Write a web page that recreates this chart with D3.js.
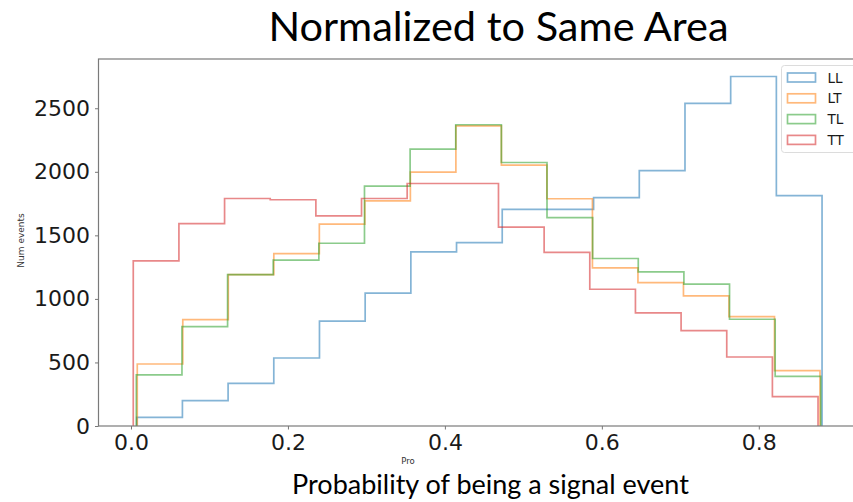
<!DOCTYPE html>
<html>
<head>
<meta charset="utf-8">
<script src="https://cdn.jsdelivr.net/npm/d3@7"></script>
<style>
  html, body { margin: 0; padding: 0; background: #fff; overflow: hidden; }
  svg { display: block; }
</style>
</head>
<body>
<script>
const width = 853;
const height = 502;

// histogram counts, 15 bins each
const seriesNames = ["LL", "LT", "TL", "TT"];
const llCounts = [68, 199, 336, 535, 825, 1045, 1370, 1443, 1705, 1705, 1797, 2010, 2538, 2750, 1813];
const ltCounts = [488, 837, 1191, 1357, 1588, 1772, 1998, 2362, 2053, 1788, 1244, 1128, 1024, 861, 436];
const tlCounts = [402, 782, 1191, 1305, 1438, 1887, 2178, 2370, 2073, 1640, 1318, 1213, 1116, 840, 390];
const ttCounts = [1299, 1593, 1790, 1780, 1654, 1790, 1908, 1908, 1564, 1366, 1076, 890, 751, 543, 231];
// each series was binned over its own min..max
const llRange = [0.0073, 0.8806];
const ltRange = [0.008, 0.878];
const tlRange = [0.0068, 0.879];
const ttRange = [0.0029, 0.8755];
const xTicks = [0, 0.2, 0.4, 0.6, 0.8];
const yTicks = [0, 500, 1000, 1500, 2000, 2500];

const colors = ["#1f77b4", "#ff7f0e", "#2ca02c", "#d62728"];
const series = [
  { name: seriesNames[0], counts: llCounts, range: llRange },
  { name: seriesNames[1], counts: ltCounts, range: ltRange },
  { name: seriesNames[2], counts: tlCounts, range: tlRange },
  { name: seriesNames[3], counts: ttCounts, range: ttRange },
];

const plot = { left: 98.5, right: 856.5, top: 59, bottom: 426 };

const xScale = d3
  .scaleLinear()
  .domain([-0.0414, 0.9245])
  .range([plot.left, plot.right]);

const yScale = d3
  .scaleLinear()
  .domain([0, 2887.5])
  .range([plot.bottom, plot.top]);

const svg = d3
  .select("body")
  .append("svg")
  .attr("width", width)
  .attr("height", height);

// step outlines
const line = d3
  .line()
  .x((d) => xScale(d[0]))
  .y((d) => yScale(d[1]));

const stepPoints = (s) => {
  const n = s.counts.length;
  const [lo, hi] = s.range;
  const edges = d3.range(n + 1).map((i) => lo + (i * (hi - lo)) / n);
  const pts = [[edges[0], 0]];
  s.counts.forEach((v, i) => {
    pts.push([edges[i], v]);
    pts.push([edges[i + 1], v]);
  });
  pts.push([edges[n], 0]);
  return pts;
};

svg
  .append("g")
  .selectAll("path")
  .data(series)
  .enter()
  .append("path")
  .attr("d", (d) => line(stepPoints(d)))
  .attr("fill", "none")
  .attr("stroke", (d, i) => colors[i])
  .attr("stroke-opacity", 0.55)
  .attr("stroke-width", 1.7);

// axes
const xAxis = svg
  .append("g")
  .attr("transform", `translate(0, ${plot.bottom})`)
  .call(
    d3.axisBottom(xScale).tickValues(xTicks).tickFormat(d3.format(".1f")).tickSize(3.5).tickPadding(5)
  );

const yAxis = svg
  .append("g")
  .attr("transform", `translate(${plot.left}, 0)`)
  .call(
    d3.axisLeft(yScale).tickValues(yTicks).tickFormat(d3.format("d")).tickSize(3.5).tickPadding(5)
  );

[xAxis, yAxis].forEach((g) => {
  g.select(".domain").remove();
  g.selectAll(".tick line").attr("stroke", "#777").attr("stroke-width", 1);
  g.selectAll(".tick text")
    .style("font-family", "DejaVu Sans")
    .style("font-size", "22px")
    .attr("fill", "#1a1a1a");
});

// frame
svg
  .append("rect")
  .attr("x", plot.left)
  .attr("y", plot.top)
  .attr("width", plot.right - plot.left)
  .attr("height", plot.bottom - plot.top)
  .attr("fill", "none")
  .attr("stroke", "#7a7a7a")
  .attr("stroke-width", 1.2);

// legend
const legend = svg.append("g").attr("transform", "translate(781.5, 65.5)");

legend
  .append("rect")
  .attr("width", 80)
  .attr("height", 87)
  .attr("rx", 3)
  .attr("fill", "#fff")
  .attr("fill-opacity", 0.8)
  .attr("stroke", "#dcdcdc")
  .attr("stroke-width", 1);

const items = legend
  .selectAll("g.item")
  .data(series)
  .enter()
  .append("g")
  .attr("class", "item")
  .attr("transform", (d, i) => `translate(6, ${12 + i * 20.8})`);

items
  .append("rect")
  .attr("y", -4.5)
  .attr("width", 28)
  .attr("height", 9)
  .attr("fill", "none")
  .attr("stroke", (d, i) => colors[i])
  .attr("stroke-opacity", 0.55)
  .attr("stroke-width", 1.7);

items
  .append("text")
  .attr("x", 40)
  .attr("y", 5)
  .style("font-family", "DejaVu Sans")
  .style("font-size", "13.5px")
  .attr("fill", "#1a1a1a")
  .text((d) => d.name);

// labels
svg
  .append("text")
  .attr("x", 498.5)
  .attr("y", 40.5)
  .attr("text-anchor", "middle")
  .style("font-family", "Lato")
  .style("font-size", "41.5px")
  .attr("fill", "#000")
  .text("Normalized to Same Area");

svg
  .append("text")
  .attr("x", 490.5)
  .attr("y", 494)
  .attr("text-anchor", "middle")
  .style("font-family", "Lato")
  .style("font-size", "27px")
  .attr("fill", "#000")
  .text("Probability of being a signal event");

svg
  .append("text")
  .attr("x", 408)
  .attr("y", 464)
  .attr("text-anchor", "middle")
  .style("font-family", "DejaVu Sans")
  .style("font-size", "8.5px")
  .attr("fill", "#333")
  .text("Pro");

svg
  .append("text")
  .attr("transform", "rotate(-90)")
  .attr("x", -240.5)
  .attr("y", 24)
  .attr("text-anchor", "middle")
  .style("font-family", "DejaVu Sans")
  .style("font-size", "9px")
  .attr("fill", "#333")
  .text("Num events");
</script>
</body>
</html>
